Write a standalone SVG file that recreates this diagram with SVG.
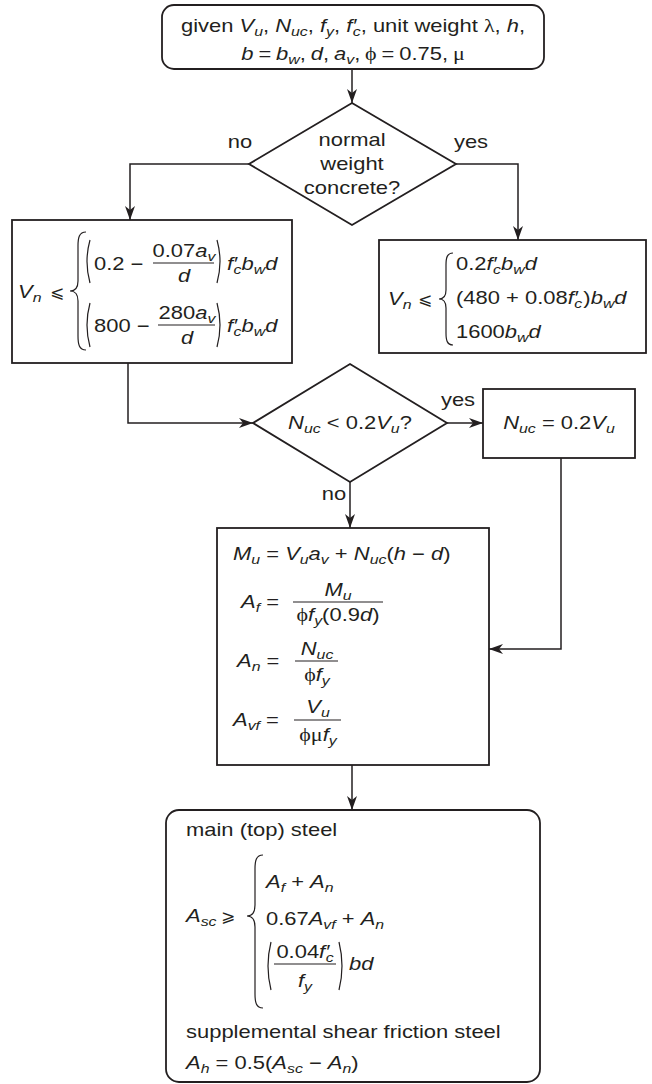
<svg xmlns="http://www.w3.org/2000/svg" width="652" height="1084" viewBox="0 0 652 1084">
<style>
text { font-family: "Liberation Sans", Arial, sans-serif; font-size: 18px; fill: #231f20; }
.i { font-style: italic; }
.s { font-size: 13px; }
.g { font-family: "Liberation Serif", "DejaVu Serif", serif; }
.m { font-family: "DejaVu Sans", sans-serif; font-size: 17px; }
.box { fill: #fff; stroke: #231f20; stroke-width: 1.8; }
.ln { fill: none; stroke: #231f20; stroke-width: 1.5; }
.br { fill: none; stroke: #231f20; stroke-width: 1.2; }
.fr { stroke: #231f20; stroke-width: 1.1; }
.mid { text-anchor: middle; }
</style>
<defs>
<marker id="ah" viewBox="0 0 14 10" refX="14" refY="5" markerWidth="14" markerHeight="10" orient="auto" markerUnits="userSpaceOnUse">
<path d="M0,0 L14,5 L0,10 L4,5 z" fill="#231f20"/>
</marker>
</defs>

<g id="connectors">
<path class="ln" d="M352,69 V103" marker-end="url(#ah)"/>
<path class="ln" d="M249,164 H130 V220" marker-end="url(#ah)"/>
<path class="ln" d="M456,164 H518 V240" marker-end="url(#ah)"/>
<path class="ln" d="M128,363 V423 H253" marker-end="url(#ah)"/>
<path class="ln" d="M447,423 H483" marker-end="url(#ah)"/>
<path class="ln" d="M350,482 V528" marker-end="url(#ah)"/>
<path class="ln" d="M561,458 V649 H489" marker-end="url(#ah)"/>
<path class="ln" d="M352,765 V810" marker-end="url(#ah)"/>
<text transform="translate(240 148) scale(1.22 1)" class="mid">no</text>
<text transform="translate(471 148) scale(1.22 1)" class="mid">yes</text>
<text transform="translate(458 406) scale(1.22 1)" class="mid">yes</text>
<text transform="translate(334 500) scale(1.22 1)" class="mid">no</text>
</g>

<g id="start">
<rect class="box" x="162" y="5" width="382" height="64" rx="12"/>
<text transform="translate(353 32) scale(1.22 1)" class="mid">given <tspan class="i">V</tspan><tspan class="i s" dy="4">u</tspan><tspan dy="-4">, </tspan><tspan class="i">N</tspan><tspan class="i s" dy="4">uc</tspan><tspan dy="-4">, </tspan><tspan class="i">f</tspan><tspan class="i s" dy="4">y</tspan><tspan dy="-4">, </tspan><tspan class="i">f′</tspan><tspan class="i s" dy="4" dx="-3">c</tspan><tspan dy="-4">, unit weight </tspan><tspan class="g">λ</tspan>, <tspan class="i">h</tspan>,</text>
<text transform="translate(353 60) scale(1.22 1)" class="mid" word-spacing="-1"><tspan class="i">b</tspan> = <tspan class="i">b</tspan><tspan class="i s" dy="4">w</tspan><tspan dy="-4">, </tspan><tspan class="i">d</tspan>, <tspan class="i">a</tspan><tspan class="i s" dy="4">v</tspan><tspan dy="-4">, </tspan><tspan class="g">ϕ</tspan> = 0.75, <tspan class="g">μ</tspan></text>
</g>

<g id="decision-normal-weight">
<polygon class="box" points="352,103 456,164 352,225 249,164"/>
<text transform="translate(352 146) scale(1.22 1)" class="mid">normal</text>
<text transform="translate(352 170) scale(1.22 1)" class="mid">weight</text>
<text transform="translate(352 194) scale(1.22 1)" class="mid">concrete?</text>
</g>

<g id="vn-lightweight">
<rect class="box" x="12" y="220" width="280" height="143"/>
<text transform="translate(18 298) scale(1.22 1)"><tspan class="i">V</tspan><tspan class="i s" dy="4">n</tspan></text>
<text x="50" y="298" class="m">⩽</text>
<path class="br" d="M86,232 C79,232 78,238 78,246 L78,281 C78,287 76,291 70,291 C76,291 78,295 78,301 L78,336 C78,344 79,350 86,350"/>
<path class="br" d="M90,240 Q84,261.5 90,283"/>
<text transform="translate(94 270) scale(1.22 1)">0.2 −</text>
<text transform="translate(184 257) scale(1.22 1)" class="mid">0.07<tspan class="i">a</tspan><tspan class="i s" dy="4">v</tspan></text>
<line class="fr" x1="153" y1="263" x2="214" y2="263"/>
<text transform="translate(184 282) scale(1.22 1)" class="mid i">d</text>
<path class="br" d="M217,240 Q223,261.5 217,283"/>
<text transform="translate(227 270) scale(1.22 1)"><tspan class="i">f′</tspan><tspan class="i s" dy="4" dx="-3">c</tspan><tspan class="i" dy="-4">b</tspan><tspan class="i s" dy="4">w</tspan><tspan class="i" dy="-4">d</tspan></text>
<path class="br" d="M90,303 Q84,325 90,347"/>
<text transform="translate(94 332) scale(1.22 1)">800 −</text>
<text transform="translate(187 319) scale(1.22 1)" class="mid">280<tspan class="i">a</tspan><tspan class="i s" dy="4">v</tspan></text>
<line class="fr" x1="158" y1="325" x2="215" y2="325"/>
<text transform="translate(187 344) scale(1.22 1)" class="mid i">d</text>
<path class="br" d="M217,303 Q223,325 217,347"/>
<text transform="translate(227 332) scale(1.22 1)"><tspan class="i">f′</tspan><tspan class="i s" dy="4" dx="-3">c</tspan><tspan class="i" dy="-4">b</tspan><tspan class="i s" dy="4">w</tspan><tspan class="i" dy="-4">d</tspan></text>
</g>

<g id="vn-normal">
<rect class="box" x="379" y="240" width="267" height="113"/>
<text transform="translate(388 305) scale(1.22 1)"><tspan class="i">V</tspan><tspan class="i s" dy="4">n</tspan></text>
<text x="418" y="305" class="m">⩽</text>
<path class="br" d="M453,253 C447,253 446,258 446,265 L446,290 C446,296 444,299 439,299 C444,299 446,302 446,308 L446,333 C446,340 447,345 453,345"/>
<text transform="translate(456 270) scale(1.22 1)">0.2<tspan class="i">f′</tspan><tspan class="i s" dy="4" dx="-3">c</tspan><tspan class="i" dy="-4">b</tspan><tspan class="i s" dy="4">w</tspan><tspan class="i" dy="-4">d</tspan></text>
<text transform="translate(456 304) scale(1.22 1)">(480 + 0.08<tspan class="i">f′</tspan><tspan class="i s" dy="4" dx="-3">c</tspan><tspan dy="-4" dx="1">)</tspan><tspan class="i">b</tspan><tspan class="i s" dy="4">w</tspan><tspan class="i" dy="-4">d</tspan></text>
<text transform="translate(456 338) scale(1.22 1)">1600<tspan class="i">b</tspan><tspan class="i s" dy="4">w</tspan><tspan class="i" dy="-4">d</tspan></text>
</g>

<g id="decision-nuc">
<polygon class="box" points="350,364 447,423 350,482 253,423"/>
<text transform="translate(350 429) scale(1.22 1)" class="mid"><tspan class="i">N</tspan><tspan class="i s" dy="4">uc</tspan><tspan dy="-4"> &lt; 0.2</tspan><tspan class="i">V</tspan><tspan class="i s" dy="4">u</tspan><tspan dy="-4">?</tspan></text>
</g>

<g id="nuc-set">
<rect class="box" x="483" y="389" width="152" height="69"/>
<text transform="translate(559 429) scale(1.22 1)" class="mid"><tspan class="i">N</tspan><tspan class="i s" dy="4">uc</tspan><tspan dy="-4"> = 0.2</tspan><tspan class="i">V</tspan><tspan class="i s" dy="4">u</tspan></text>
</g>

<g id="compute">
<rect class="box" x="217" y="528" width="272" height="237"/>
<text transform="translate(233 560) scale(1.22 1)"><tspan class="i">M</tspan><tspan class="i s" dy="4">u</tspan><tspan dy="-4"> = </tspan><tspan class="i">V</tspan><tspan class="i s" dy="4">u</tspan><tspan class="i" dy="-4">a</tspan><tspan class="i s" dy="4">v</tspan><tspan dy="-4"> + </tspan><tspan class="i">N</tspan><tspan class="i s" dy="4">uc</tspan><tspan dy="-4">(</tspan><tspan class="i">h</tspan> − <tspan class="i">d</tspan>)</text>
<text transform="translate(241 608) scale(1.22 1)"><tspan class="i">A</tspan><tspan class="i s" dy="4">f</tspan><tspan dy="-4"> =</tspan></text>
<text transform="translate(338 596) scale(1.22 1)" class="mid"><tspan class="i">M</tspan><tspan class="i s" dy="4">u</tspan></text>
<line class="fr" x1="293" y1="602" x2="383" y2="602"/>
<text transform="translate(338 621) scale(1.22 1)" class="mid"><tspan class="g">ϕ</tspan><tspan class="i">f</tspan><tspan class="i s" dy="4">y</tspan><tspan dy="-4">(0.9</tspan><tspan class="i">d</tspan>)</text>
<text transform="translate(237 667) scale(1.22 1)"><tspan class="i">A</tspan><tspan class="i s" dy="4">n</tspan><tspan dy="-4"> =</tspan></text>
<text transform="translate(317 655) scale(1.22 1)" class="mid"><tspan class="i">N</tspan><tspan class="i s" dy="4">uc</tspan></text>
<line class="fr" x1="295" y1="661" x2="338" y2="661"/>
<text transform="translate(317 681) scale(1.22 1)" class="mid"><tspan class="g">ϕ</tspan><tspan class="i">f</tspan><tspan class="i s" dy="4">y</tspan></text>
<text transform="translate(233 726) scale(1.22 1)"><tspan class="i">A</tspan><tspan class="i s" dy="4">vf</tspan><tspan dy="-4"> =</tspan></text>
<text transform="translate(318 713) scale(1.22 1)" class="mid"><tspan class="i">V</tspan><tspan class="i s" dy="4">u</tspan></text>
<line class="fr" x1="294" y1="720" x2="341" y2="720"/>
<text transform="translate(318 741) scale(1.22 1)" class="mid"><tspan class="g">ϕμ</tspan><tspan class="i">f</tspan><tspan class="i s" dy="4">y</tspan></text>
</g>

<g id="result">
<rect class="box" x="166" y="810" width="374" height="272" rx="13"/>
<text transform="translate(186 836) scale(1.22 1)">main (top) steel</text>
<text transform="translate(186 922) scale(1.22 1)"><tspan class="i">A</tspan><tspan class="i s" dy="4">sc</tspan></text>
<text x="221" y="922" class="m">⩾</text>
<path class="br" d="M263,855 C256,855 255,861 255,869 L255,905 C255,912 253,916 247,916 C253,916 255,920 255,927 L255,994 C255,1002 256,1008 263,1008"/>
<text transform="translate(266 888) scale(1.22 1)"><tspan class="i">A</tspan><tspan class="i s" dy="4">f</tspan><tspan dy="-4"> + </tspan><tspan class="i">A</tspan><tspan class="i s" dy="4">n</tspan></text>
<text transform="translate(266 925) scale(1.22 1)">0.67<tspan class="i">A</tspan><tspan class="i s" dy="4">vf</tspan><tspan dy="-4"> + </tspan><tspan class="i">A</tspan><tspan class="i s" dy="4">n</tspan></text>
<path class="br" d="M271,942 Q265,966 271,990"/>
<text transform="translate(305 958) scale(1.22 1)" class="mid">0.04<tspan class="i">f′</tspan><tspan class="i s" dy="4" dx="-3">c</tspan></text>
<line class="fr" x1="274" y1="964" x2="336" y2="964"/>
<text transform="translate(305 987) scale(1.22 1)" class="mid"><tspan class="i">f</tspan><tspan class="i s" dy="4">y</tspan></text>
<path class="br" d="M339,942 Q345,966 339,990"/>
<text transform="translate(349 970) scale(1.22 1)" class="i">bd</text>
<text transform="translate(186 1038) scale(1.22 1)">supplemental shear friction steel</text>
<text transform="translate(186 1069) scale(1.22 1)"><tspan class="i">A</tspan><tspan class="i s" dy="4">h</tspan><tspan dy="-4"> = 0.5(</tspan><tspan class="i">A</tspan><tspan class="i s" dy="4">sc</tspan><tspan dy="-4"> − </tspan><tspan class="i">A</tspan><tspan class="i s" dy="4">n</tspan><tspan dy="-4">)</tspan></text>
</g>
</svg>
